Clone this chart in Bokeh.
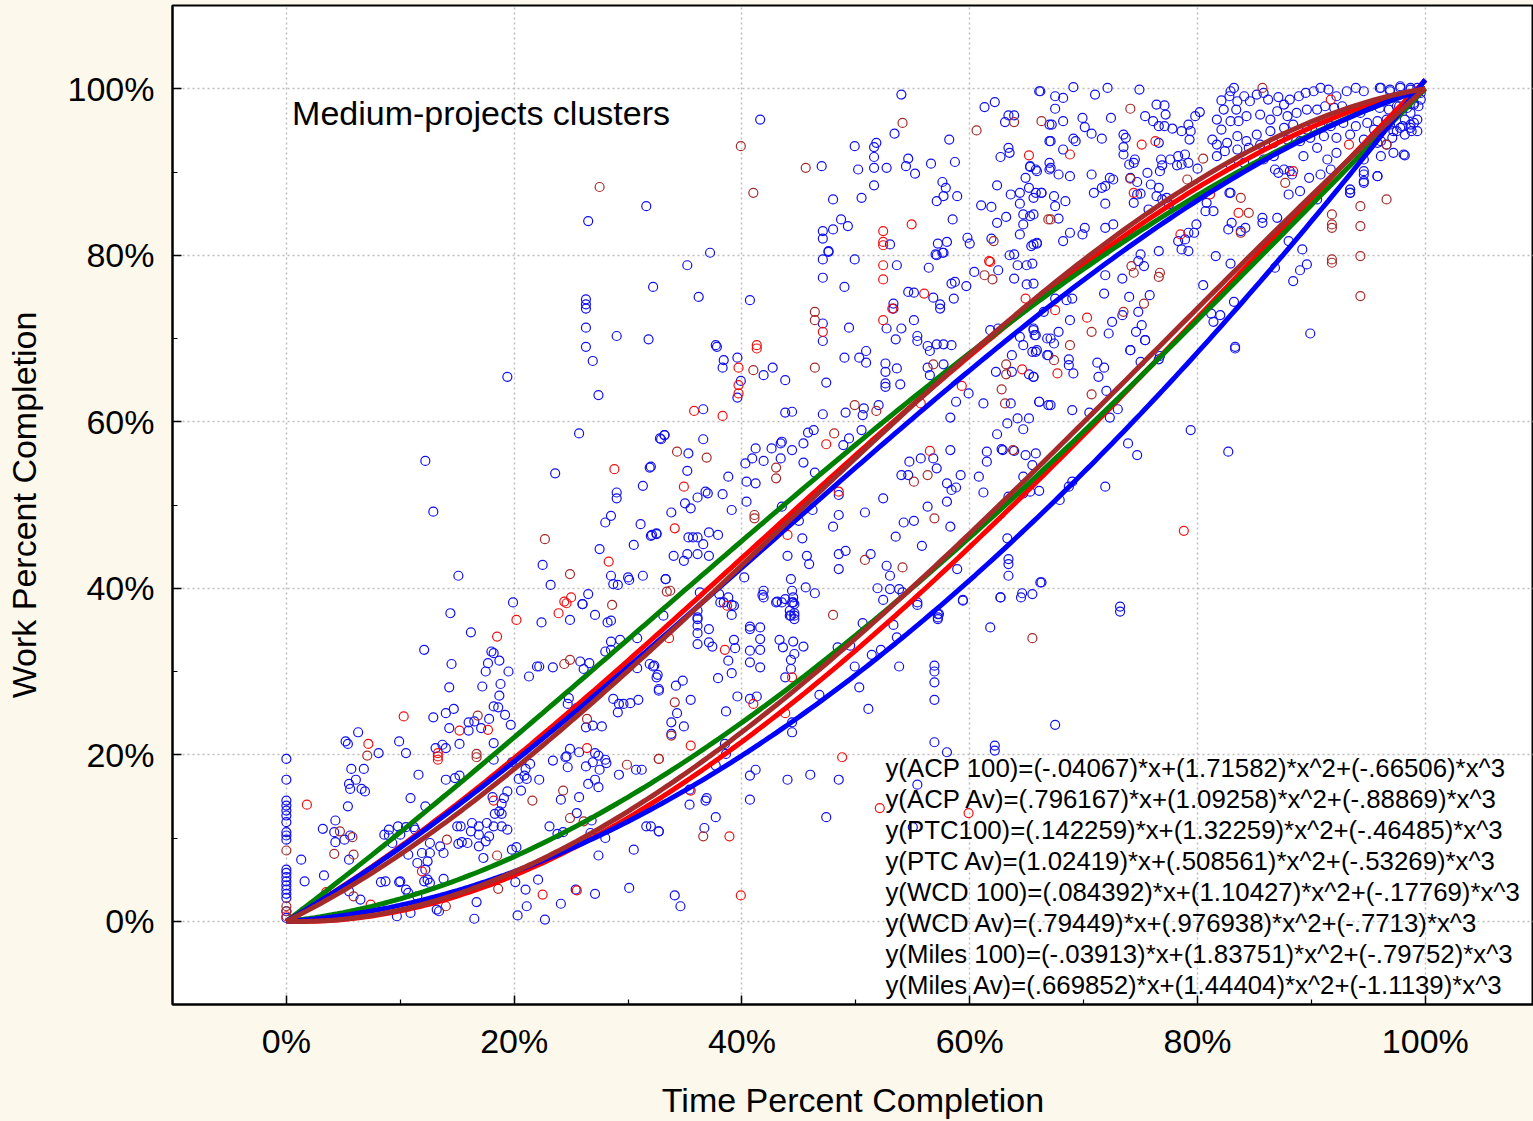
import numpy as np
from bokeh.plotting import figure
from bokeh.models import FixedTicker, Range1d, ColumnDataSource
from bokeh.embed import file_html
from bokeh.resources import INLINE
from bokeh.core.properties import value

# ---------------- data ----------------
x_ticks = [0, 20, 40, 60, 80, 100]
x_tick_labels = ["0%", "20%", "40%", "60%", "80%", "100%"]
x_minor_ticks = [10, 30, 50, 70, 90]
y_ticks = [0, 20, 40, 60, 80, 100]
y_tick_labels = ["0%", "20%", "40%", "60%", "80%", "100%"]
y_minor_ticks = [10, 30, 50, 70, 90]

fit_names = ["ACP 100", "ACP Av", "PTC100", "PTC Av", "WCD 100", "WCD Av", "Miles 100", "Miles Av"]
coef_x = [-.04067, .796167, .142259, 1.02419, .084392, .79449, -.03913, .669852]
coef_x2 = [1.71582, 1.09258, 1.32259, .508561, 1.10427, .976938, 1.83751, 1.44404]
coef_x3 = [-.66506, -.88869, -.46485, -.53269, -.17769, -.7713, -.79752, -1.1139]
fit_colors = ["#FF0000", "#FF0000", "#008000", "#008000", "#0000FF", "#0000FF", "#A52A2A", "#A52A2A"]
equation_texts = [
    "y(ACP 100)=(-.04067)*x+(1.71582)*x^2+(-.66506)*x^3",
    "y(ACP Av)=(.796167)*x+(1.09258)*x^2+(-.88869)*x^3",
    "y(PTC100)=(.142259)*x+(1.32259)*x^2+(-.46485)*x^3",
    "y(PTC Av)=(1.02419)*x+(.508561)*x^2+(-.53269)*x^3",
    "y(WCD 100)=(.084392)*x+(1.10427)*x^2+(-.17769)*x^3",
    "y(WCD Av)=(.79449)*x+(.976938)*x^2+(-.7713)*x^3",
    "y(Miles 100)=(-.03913)*x+(1.83751)*x^2+(-.79752)*x^3",
    "y(Miles Av)=(.669852)*x+(1.44404)*x^2+(-1.1139)*x^3",
]
chart_note = "Medium-projects clusters"
x_title = "Time Percent Completion"
y_title = "Work Percent Completion"

# scatter points, (time %, work %)
blue_pts = [
    (0,19.5),(0,17),(0,14.5),(0,13.9),(0,13.3),(0,12.7),(0,11.9),(0,10.7),(0,10.3),(0,9.8),(0,6.2),(0,5.8),(0,5.3),(0,4.8),(0,4.3),(0,3.8),(0,3.3),(0,2.8),(0,1.2),(0,0.4),
    (19.9,38.3),(14.4,37.0),(16.2,34.7),(12.1,32.6),(14.5,30.9),(14.3,28.1),(14.0,25.0),(14.7,25.5),(12.9,24.5),(14.3,23.2),(6.3,22.7),(5.2,21.6),(5.4,21.3),(9.9,21.6),(10.5,20.2),(8.1,20.2),(16.0,23.9),(16.5,24.0),(17.1,23.2),(16.0,22.9),(17.8,24.3),(18.0,32.4),(18.2,32.2),(17.7,31.0),(18.7,31.3),(17.5,30.0),(19.5,30.0),(17.2,28.2),(18.8,28.5),(18.7,27.1),(18.2,25.8),(18.6,25.7),(19.2,24.8),(19.7,23.6),(13.7,21.2),(14.0,20.8),(15.2,21.3),(13.1,20.8),(18.2,21.4),(18.2,19.4),(11.6,17.6),(5.7,18.3),(6.8,18.3),(6.1,17.0),(5.5,16.5),(5.6,15.9),(6.6,15.9),(6.9,15.6),(5.4,13.8),(10.9,14.8),(12.2,13.8),(14.0,17.0),(14.8,17.2),(15.2,17.5),(3.2,11.1),(4.3,12.1),(4.2,10.7),(4.3,9.5),(5.1,9.8),(5.6,10.3),(1.3,7.4),(1.6,4.8),(3.3,5.5),(5.5,7.4),(5.5,3.6),(6.5,2.6),(8.3,4.7),(8.7,4.8),(9.9,4.7),(10.0,4.8),(9.0,10.3),(8.6,10.4),(9.8,11.4),(10.5,11.3),(10.0,10.4),(11.2,11.3),(11.3,11.0),(9.0,11.0),(9.3,9.4),(10.7,8.0),(11.9,8.2),(12.6,9.4),(12.6,8.2),(12.4,7.2),(13.5,9.0),(13.8,8.2),(11.5,7.0),(12.2,6.2),(12.4,5.0),(12.1,4.8),(12.6,4.6),(13.8,5.1),(10.5,3.8),(10.7,3.4),(11.5,3.0),(13.2,1.4),(13.4,1.2),(9.7,0.6),(10.9,1.0),(15.1,9.3),(15.4,9.5),(15.9,9.4),(16.3,11.8),(16.9,11.4),(17.6,11.8),(16.2,10.8),(16.9,10.4),(17.5,9.6),(16.9,9.0),(17.8,10.2),(18.2,11.4),(18.9,11.4),(15.0,11.4),(15.3,11.4),(18.3,12.9),(18.7,13.2),(18.9,12.9),(18.1,14.9),(19.4,15.6),(19.1,14.8),(18.9,14.1),(20.6,15.7),(19.8,19.1),(21.0,18.3),(20.9,17.5),(21.1,17.1),(20.4,17.1),(22.2,17.0),(21.4,18.9),(23.4,19.3),(24.6,19.8),(24.9,20.7),(25.7,20.3),(24.7,18.5),(24.5,19.7),(26.3,18.6),(26.9,19.1),(27.1,20.2),(27.4,19.9),(28.0,19.4),(27.5,18.2),(28.1,19.0),(27.1,17.0),(26.5,16.5),(27.4,16.1),(29.2,17.6),(30.7,18.2),(31.2,18.2),(22.2,30.6),(23.4,30.5),(21.3,29.4),(22.0,30.6),(25.8,31.2),(26.6,31.0),(26.1,30.3),(28.0,32.4),(28.5,32.6),(28.5,33.6),(28.2,35.9),(28.5,36.1),(29.3,33.8),(27.1,36.8),(24.9,36.2),(26.0,38.1),(22.4,35.9),(30.8,34.0),(31.9,30.9),(32.2,30.6),(32.6,29.6),(32.7,27.9),(30.8,30.4),(28.7,26.7),(29.2,26.1),(29.6,26.1),(30.2,26.2),(30.9,26.6),(29.1,25.1),(24.7,26.1),(25.5,25.6),(24.8,26.8),(26.3,23.3),(26.9,23.5),(27.7,23.4),(31.6,11.4),(32.7,10.8),(30.5,8.6),(27.4,7.9),(28.0,10.0),(27.4,10.6),(26.7,10.6),(30.1,4.0),(27.1,3.3),(25.4,3.8),(24.1,2.1),(22.7,0.2),(21.1,1.8),(20.3,0.7),(20.1,4.7),(21.0,3.8),(22.1,5.0),(16.7,2.3),(16.5,0.3),(17.3,7.6),(19.4,11.0),(20.2,8.9),(19.8,8.6),(23.1,11.4),(23.8,10.5),(24.3,10.7),(24.1,14.6),(25.7,14.9),(25.5,13.0),(26.8,12.1),
    (32.2,76.2),(26.3,74.7),(26.3,74.1),(26.3,73.6),(26.3,71.3),(29.0,70.3),(31.8,69.9),(26.3,69.0),(26.9,67.3),(19.4,65.4),(27.4,63.2),(25.7,58.6),(32.8,58.0),(33.2,58.4),(12.2,55.3),(23.6,53.8),(31.9,54.5),(29.0,51.5),(29.0,50.8),(31.3,52.3),(12.9,49.2),(28.0,47.9),(28.5,48.7),(31.1,47.7),(32.0,46.3),(32.5,46.6),(27.5,44.7),(30.5,45.2),(22.5,42.8),(23.2,40.4),(15.1,41.5),(28.5,41.5),(28.7,40.5),(29.1,40.4),(30.1,41.0),(30.0,41.3),(31.3,41.5),(33.3,41.1),(26.5,39.3),(26.0,38.1),
    (26.5,84.1),(31.6,85.9),
    (54.0,99.3),(41.6,96.3),(66.2,99.7),(61.3,97.8),(62.2,98.4),(63.1,96.0),(63.4,96.8),(63.9,96.8),(53.4,94.6),(49.9,93.1),(51.6,93.0),(51.8,93.5),(51.6,91.8),(51.6,90.5),(52.7,90.5),(50.2,90.3),(47.0,90.7),(58.2,93.9),(54.6,91.6),(54.4,90.7),(55.2,89.8),(56.6,91.0),(58.7,91.2),(51.6,88.4),(57.6,88.8),(57.9,88.1),(50.5,86.9),(48.0,86.7),(57.7,87.1),(57.1,86.5),(58.9,87.1),(58.5,84.3),(48.7,84.3),(49.3,83.5),(48.0,83.1),(47.1,82.9),(47.1,82.0),(47.6,80.5),(53.0,81.3),(57.2,81.4),(58.0,81.6),(57.6,80.3),(57.0,80.1),(59.8,82.1),(60.0,81.4),(62.7,91.8),(63.4,92.9),(63.5,92.3),(62.4,88.4),(64.9,89.3),(65.3,90.6),(65.9,90.1),(63.6,87.3),(64.4,87.5),(65.2,88.1),(64.4,86.2),(65.6,86.9),(66.3,87.5),(61.0,86.0),(61.9,85.8),(63.2,84.6),(62.4,83.9),(64.7,84.9),(65.6,84.9),(64.7,83.7),(64.4,82.5),(61.9,82.0),(65.4,81.1),(65.9,81.4),(63.9,80.1),(67.0,95.7),(67.0,93.7),(67.0,91.1),(67.0,90.3),
    (37.2,80.3),(35.2,78.8),(36.2,75.0),(40.7,74.6),(47.1,79.5),(47.6,80.4),(49.9,79.5),(47.1,77.3),(49.0,76.2),(53.6,78.8),(56.4,78.5),(57.1,80.0),(57.7,80.3),(60.4,78.0),(62.5,78.2),(63.5,80.0),(63.9,77.2),(64.2,78.8),(65.0,78.8),(65.0,76.5),(47.1,71.8),(47.1,69.7),(49.4,71.3),(37.7,69.2),(37.8,69.0),(38.4,67.4),(38.3,66.5),(39.6,67.7),(39.9,64.9),(39.6,62.9),(41.9,65.6),(42.7,66.5),(43.8,65.0),(36.6,61.5),(43.8,61.1),(44.4,61.2),(47.1,60.9),(47.4,64.7),(49.0,67.7),(50.3,67.7),(50.9,68.5),(50.9,67.1),(52.6,67.0),(52.6,66.0),(53.6,66.4),(52.6,64.6),(52.6,64.2),(53.9,64.5),(52.7,71.2),(54.0,71.2),(55.1,72.2),(53.5,69.9),(55.4,70.3),(55.4,69.7),(53.3,74.2),(53.3,73.6),(55.1,75.5),(54.6,75.6),(56.8,74.9),(57.4,74.1),(57.4,73.6),(56.3,69.1),(57.1,69.3),(57.7,69.3),(58.4,69.2),(56.5,68.5),(56.3,66.5),(56.5,65.6),(57.7,66.9),(58.8,62.4),(58.3,60.5),(61.2,62.2),(59.9,63.4),(58.6,74.8),(58.4,76.6),(58.7,76.8),(59.7,76.3),(61.8,71.0),(62.5,71.2),(64.4,70.2),(65.6,71.0),(65.7,70.4),(65.5,68.4),(65.9,68.6),(66.8,68.0),(66.8,70.0),(64.7,69.2),(63.7,68.0),(62.3,66.0),(63.7,66.0),(65.2,65.7),(65.6,65.4),(66.1,62.4),(66.9,62.0),(63.6,62.2),(63.3,59.8),(64.2,60.4),(65.2,60.4),(64.7,59.1),(62.4,58.5),(62.8,56.7),(63.9,56.5),(64.9,56.0),(65.8,56.2),(65.5,54.8),(64.7,53.4),(63.4,51.0),(64.7,51.4),(65.3,51.6),(65.5,39.3),(62.7,38.9),(64.6,39.4),
    (32.9,57.9),(33.2,58.4),(36.6,57.9),(32.0,54.6),(35.3,56.2),(35.2,54.1),(35.0,50.2),(35.5,49.6),(33.8,49.1),(36.8,51.6),(37.0,51.4),(36.1,50.9),(38.3,51.3),(38.8,53.4),(39.1,49.4),(32.1,46.4),(32.5,46.5),(34.0,43.9),(34.9,43.3),(35.3,46.1),(35.7,46.1),(36.1,46.1),(36.6,45.3),(35.2,44.1),(36.1,44.1),(37.1,43.9),(37.1,46.7),(37.9,46.4),(33.3,41.1),(33.1,36.7),(36.3,39.5),(36.1,36.3),(38.0,39.3),(38.8,38.9),(39.3,37.9),(38.4,38.3),(40.2,41.3),(41.9,39.7),(41.8,39.2),(43.1,38.4),(43.8,38.7),(44.3,41.1),(44.4,39.7),(44.5,38.9),(44.5,38.3),(44.6,37.0),(44.3,36.7),(45.6,40.1),(46.4,39.4),(40.7,35.4),(41.2,56.8),(40.9,55.6),(40.3,55.0),(41.9,55.3),(40.4,52.8),(41.2,52.6),(40.4,50.4),(42.6,56.8),(43.4,57.4),(43.5,57.6),(44.4,56.6),(45.4,57.4),(45.8,58.7),(46.3,59.0),(45.4,55.1),(43.4,55.6),(46.4,53.9),(43.5,49.8),(46.2,49.4),(45.0,48.1),(45.3,46.0),(44.0,43.9),(45.7,43.9),(45.9,42.9),(48.5,48.8),(48.0,47.4),(48.9,57.2),(49.4,58.0),(50.5,59.0),(50.7,61.6),(50.6,60.8),(52.0,62.0),(49.1,61.1),(48.5,51.2),(48.5,44.1),(49.1,44.5),(48.5,42.3),(50.8,49.1),(51.3,44.1),(52.4,50.8),(52.7,42.7),(53.0,41.5),(51.9,40.0),(52.4,38.6),(53.0,39.9),(53.8,39.9),(54.1,39.5),(55.4,38.0),(57.3,36.9),(57.2,36.5),(53.5,46.2),(54.2,47.9),(55.1,48.1),(55.8,45.1),(56.3,49.8),(56.8,55.6),(57.1,54.4),(58.3,56.6),(55.7,55.6),(54.7,55.2),(54.6,53.6),(54.0,53.6),(58.0,52.6),(58.4,51.8),(58.8,52.1),(59.2,53.6),(58.0,50.4),(58.3,47.4),(60.8,53.4),(61.2,51.5),(61.5,56.4),(61.5,55.2),(62.9,56.6),(63.3,46.0),(63.4,43.5),(63.4,42.9),(63.4,41.5),(66.2,40.7),(59.4,38.6),(58.9,42.3),
    (41.9,38.9),(43.0,38.3),(43.5,38.3),(44.4,38.3),(44.6,38.1),(44.2,37.3),(44.6,36.7),(44.6,36.3),(44.2,36.7),(38.1,38.3),(39.1,38.0),(39.1,36.8),(36.1,37.3),(36.1,36.5),(36.1,35.5),(36.1,34.6),(36.1,33.3),(37.1,35.1),(40.7,35.1),(41.6,35.3),(41.6,33.9),(41.6,32.6),(40.7,32.5),(40.7,31.1),(41.6,30.5),(43.3,33.8),(43.6,32.9),(44.5,33.6),(45.4,33.0),(44.6,32.1),(44.3,31.4),(44.3,30.3),(43.8,29.3),(37.1,33.5),(37.4,33.0),(39.3,33.8),(39.4,32.8),(38.8,31.3),(39.1,29.8),(37.9,29.2),(32.3,30.7),(32.5,29.3),(32.7,27.7),(34.2,28.3),(34.8,28.9),(35.5,26.6),(34.3,25.0),(33.8,23.9),(33.8,22.5),(34.9,23.4),(39.6,27.0),(40.7,26.7),(41.3,27.0),(38.6,25.2),(32.0,11.4),(32.7,10.8),(34.1,3.1),(34.6,1.8),(35.4,15.8),(35.4,14.0),(36.8,14.5),(36.9,14.8),(37.7,12.5),(36.7,11.2),(38.5,21.3),(38.6,20.1),(37.7,18.7),(40.7,17.5),(41.2,18.2),(40.7,14.6),(44.0,17.0),(46.0,17.6),(48.5,17.0),(47.4,12.5),(55.4,16.4),(46.8,27.2),(44.4,23.9),(44.4,22.7),(49.9,30.6),(50.3,28.1),(51.1,25.5),(51.4,32.0),(52.2,32.6),(53.6,34.1),(53.3,35.6),(53.8,30.6),(50.6,35.8),(49.5,33.1),(48.4,32.9),(55.4,38.3),(57.2,36.9),(57.2,36.3),(59.4,38.5),(61.8,35.3),(62.7,38.9),(64.5,38.9),(56.9,30.7),(56.9,30.0),(56.9,28.7),(56.9,26.6),(56.9,21.5),(58.0,20.3),(62.2,21.1),(62.2,20.5),(55.0,11.3),
    (66.1,99.7),(67.5,99.1),(68.2,98.9),(69.1,100.2),(71.0,99.3),(72.1,100.1),(74.9,99.9),(67.5,97.6),(67.2,95.7),(68.2,96.1),(69.9,96.5),(70.1,95.4),(70.7,94.6),(71.6,94.0),(69.1,94.0),(69.3,93.7),(68.2,92.7),(67.1,93.7),(72.4,96.5),(75.4,96.7),(76.1,96.1),(76.4,98.1),(77.1,98.0),(77.2,96.9),(77.1,95.5),(76.6,95.5),(77.8,95.2),(78.6,94.9),(79.2,95.7),(79.8,96.7),(80.2,97.2),(79.3,93.9),(79.4,94.9),(73.5,94.5),(73.7,94.1),(73.5,93.0),(73.5,92.1),(74.5,91.5),(74.4,91.1),(74.0,90.9),(76.6,93.5),(76.8,91.5),(76.9,90.8),(77.6,91.5),(78.3,91.9),(78.9,92.1),(79.2,91.1),(78.2,90.8),(80.0,90.4),(76.7,90.1),(78.6,90.9),(65.3,90.7),(65.8,90.3),(67.1,90.5),(67.8,89.7),(68.8,89.5),(70.7,89.7),(71.6,88.1),(71.9,88.3),(72.6,89.1),(72.3,89.3),(74.1,89.3),(75.6,89.9),(75.9,88.5),(76.6,88.1),(77.3,86.9),(76.9,86.7),(76.4,87.1),(77.5,86.1),(75.7,85.5),(74.7,88.8),(74.7,87.3),(74.4,86.3),(75.0,87.4),(65.8,87.5),(66.3,87.5),(67.4,87.1),(67.5,85.9),(68.4,86.5),(70.9,87.5),(71.9,86.2),(65.3,84.7),(67.8,84.4),(65.6,81.3),(65.9,81.5),(68.2,81.7),(68.8,82.7),(69.9,82.5),(70.1,83.3),(71.9,83.3),(72.6,83.7),(76.6,80.5),(75.0,80.1),(75.3,78.7),(74.8,79.3),(73.4,77.2),(74.0,75.0),(75.8,75.2),(71.9,77.6),(71.8,75.4),(69.0,74.8),(68.5,74.6),(67.5,74.8),(65.5,79.0),(65.6,76.6),(66.5,73.2),(68.8,72.2),(67.1,70.0),(67.8,70.8),(65.6,71.2),(65.8,70.4),(72.2,70.6),(72.5,72.0),(73.4,72.8),(74.6,70.8),(75.1,71.6),(74.8,73.2),(74.1,68.6),(75.4,69.8),(78.3,81.7),(78.9,81.9),(79.2,80.5),(78.6,80.7),(79.9,83.7),(80.7,85.3),(80.8,86.3),(81.6,79.9),(81.4,85.3),(79.2,82.7),(79.7,82.7),(80.5,76.4),(82.9,79.0),(82.8,87.5),(82.7,83.1),(83.0,83.9),(83.8,82.9),(84.2,83.3),(85.7,84.5),(85.7,83.9),(87.0,84.5),(88.0,81.7),(89.2,80.7),(86.8,78.5),(88.4,76.9),(89.0,78.2),(89.6,78.9),(89.9,70.6),(83.2,74.4),(81.2,73.0),(81.4,72.0),(82.0,72.8),(83.3,69.0),
    (82.1,98.6),(82.9,99.7),(83.2,100.1),(82.8,99.1),(83.5,98.5),(82.3,97.5),(83.4,97.5),(84.1,99.1),(84.6,98.5),(85.2,99.3),(85.8,99.5),(86.2,98.7),(87.1,99.0),(87.6,98.1),(88.1,98.7),(88.9,99.1),(89.5,99.5),(90.2,99.7),(90.8,100.1),(91.5,99.9),(92.2,99.1),(93.1,99.7),(93.9,100.1),(94.6,99.7),(96.0,100.1),(96.9,99.9),(97.8,100.1),(98.7,99.9),(99.3,100.1),(99.6,99.5),(81.7,96.3),(82.1,95.1),(82.9,96.1),(83.6,96.1),(84.3,96.7),(85.5,96.9),(86.4,96.3),(87.0,97.3),(87.9,96.7),(88.7,97.1),(89.6,97.5),(90.5,97.5),(91.2,97.9),(92.0,97.7),(92.7,97.9),(93.4,97.3),(94.3,97.1),(95.2,97.9),(96.0,97.7),(96.8,97.5),(97.5,97.9),(98.4,97.7),(99.0,98.1),(99.4,97.9),(81.3,93.9),(81.7,93.3),(82.6,93.5),(83.5,94.3),(84.3,93.7),(85.2,94.5),(86.4,94.9),(87.6,95.3),(88.4,95.7),(89.6,95.1),(90.8,95.5),(91.7,95.5),(92.8,95.9),(93.9,95.5),(94.9,95.9),(95.8,96.1),(96.9,95.7),(97.8,95.3),(98.7,95.7),(99.3,96.3),(98.8,94.9),(98.2,94.5),(81.7,91.9),(82.4,92.5),(83.5,92.7),(84.5,92.9),(85.5,93.3),(86.7,93.5),(87.9,93.9),(89.0,93.7),(89.9,94.1),(91.1,94.3),(92.2,94.1),(93.4,94.5),(94.6,93.9),(95.8,93.5),(96.6,93.3),(97.5,94.9),(82.9,90.9),(84.1,91.1),(85.8,91.5),(86.7,91.9),(87.6,90.3),(88.1,90.1),(89.3,91.9),(90.5,92.9),(91.4,91.5),(92.2,92.3),(94.6,91.5),(95.8,89.5),(98.1,92.1),(94.6,90.1),(93.4,87.9),(97.2,92.3),(87.1,89.9),(86.8,90.3),(88.3,89.7),(89.8,89.3),(90.8,89.7),(91.7,90.3),(94.6,88.7),(93.4,87.5),(82.9,87.5),(90.5,86.7),(88.0,87.3),(89.0,87.7),
    (83.3,68.8),(79.4,59.0),(82.7,56.4),(73.9,57.4),(74.7,56.0),(71.9,52.2),(68.7,52.2),(69.0,52.8),(67.9,50.6),(66.1,51.7),(66.3,40.7),(73.2,37.8),(73.2,37.2),(67.5,23.6),(74.1,68.6),(71.2,67.1),(71.8,66.5),(71.3,65.4),(72.0,63.7),(73.0,61.5),(72.3,60.5),(70.5,61.1),(69.0,61.4),(67.1,62.0),(66.1,62.4),(65.6,65.4),(66.9,68.0),(68.7,67.5),(68.7,66.8),(69.1,65.8),(65.8,68.4),(67.4,69.4),(75.4,69.8),(75.0,67.2),(76.6,67.5),(76.7,67.9),
    (96.1,100.1),(96.9,99.7),(97.8,100.3),(98.7,100.1),(99.3,99.7),(99.0,98.3),(98.7,97.1),(98.2,96.3),(99.0,95.9),(99.3,94.9),(98.7,95.3),(99.6,98.7),(98.0,95.5),(97.2,94.9),(97.1,94.1),(96.1,93.7),(96.1,91.9),(94.3,91.9),(94.9,93.3),(95.5,95.1),(96.6,96.3),(97.7,97.9),(96.3,98.5),(98.2,92.0),(95.8,89.5),(94.6,89.7),(94.6,88.9),(93.4,87.9),(93.4,87.5),
]

red_pts = [
    (0,0.6),(1.8,14.0),(10.3,24.6),(7.2,21.3),(13.3,19.4),(13.3,19.8),(13.3,20.2),(15.2,22.9),(17.7,23.0),(18.5,34.2),(20.2,36.2),(23.9,37.0),(24.6,38.2),(25.0,38.9),(26.4,20.8),(18.2,14.5),(3.5,3.5),(7.4,2.0),(11.9,6.0),(22.5,3.2),(25.5,3.7),(28.8,54.3),(28.3,43.2),(24.4,38.4),
    (52.4,82.9),(52.4,81.6),(52.4,81.2),(54.9,83.7),(65.2,92.0),(61.7,79.3),
    (52.4,78.8),(52.4,77.1),(53.2,73.6),(52.4,72.2),(56.0,75.4),(61.8,79.2),(64.9,74.8),(64.6,66.3),(59.3,64.3),(55.7,62.2),(47.1,70.8),(41.3,69.2),(41.3,68.8),(39.7,66.5),(39.7,64.4),(39.7,63.4),(35.8,61.3),(38.3,60.7),(47.4,57.3),(34.9,52.2),(34.1,47.2),(48.5,51.6),(56.5,56.5),(44.0,46.4),(38.7,37.9),
    (33.6,34.0),(38.5,32.6),(44.4,29.3),(43.8,25.0),(35.5,21.1),(48.8,19.7),(38.9,10.2),(39.9,3.1),(52.1,13.6),(59.9,13.0),(35.5,15.7),(41.0,26.1),
    (68.8,92.1),(75.1,93.3),(76.3,93.7),(70.3,72.5),(67.5,73.4),(83.6,85.1),(81.1,87.3),(74.4,87.5),(78.5,82.5),(88.4,90.1),(93.3,93.3),(91.7,98.7),
    (78.8,46.9),(67.7,65.8),
]

brown_pts = [
    (0,8.5),(0,1.8),(0,1.2),(4.2,8.1),(7.1,19.9),(16.8,24.7),(16.7,19.7),(16.7,20.1),(24.4,30.9),(24.9,31.4),(26.4,24.3),(29.9,18.8),(32.7,19.5),(24.3,15.7),(21.6,14.5),(24.9,12.4),(26.1,12.0),(14.1,9.8),(5.9,8.0),(5.9,3.0),(18.5,7.9),(18.6,3.9),(14.0,1.8),(4.7,10.8),(5.8,10.1),
    (22.7,45.9),(24.9,41.7),(28.6,38.0),(33.4,39.6),(27.5,88.2),
    (39.9,93.1),(45.6,90.5),(41.0,87.5),(54.1,95.9),(60.6,95.0),(63.9,96.0),(66.3,96.1),(62.1,81.7),(66.9,84.3),
    (46.4,73.2),(46.4,72.2),(46.4,66.5),(41.0,66.2),(49.9,62.0),(51.8,61.3),(48.1,58.6),(34.3,56.4),(36.9,55.7),(43.0,54.5),(43.0,53.2),(41.1,48.8),(41.1,48.4),(61.3,77.6),(62.0,77.1),(56.8,66.9),(63.2,66.9),(63.2,65.7),(62.8,63.9),(63.1,62.2),(63.8,56.6),(56.3,53.6),(55.1,52.8),(56.9,48.4),(54.1,42.5),(50.8,43.4),(48.0,36.8),(33.7,39.7),
    (34.1,26.3),(33.8,22.3),(32.7,19.5),(36.6,10.2),(65.5,34.0),
    (74.1,97.6),(85.7,100.1),(79.1,89.1),(80.5,91.6),(74.1,89.2),(74.2,78.7),(74.4,77.9),(76.6,77.4),(76.7,77.9),(75.3,74.2),(73.5,73.2),(70.7,70.8),(68.8,69.2),(67.1,84.3),(83.8,86.9),(84.5,85.1),(83.8,82.7),(87.7,88.7),(91.8,84.9),(91.8,83.7),(91.8,83.3),(94.3,85.9),(94.3,83.5),(96.6,86.7),(94.3,79.9),(91.8,79.5),(91.8,79.1),(94.3,75.1),(96.6,93.3),
    (67.4,67.4),(70.7,63.3),
]

# ---------------- styling ----------------
CREAM = "#FDF8EC"
FONT = "Liberation Sans"

p = figure(width=1533, height=1121,
           x_range=Range1d(-10, 109.5), y_range=Range1d(-10, 110),
           output_backend="svg", toolbar_location=None,
           min_border_left=172, min_border_right=0, min_border_top=5, min_border_bottom=113,
           background_fill_color="white", border_fill_color=CREAM,
           outline_line_color="black", outline_line_width=2)

p.xaxis.ticker = FixedTicker(ticks=x_ticks, minor_ticks=x_minor_ticks)
p.yaxis.ticker = FixedTicker(ticks=y_ticks, minor_ticks=y_minor_ticks)
p.xaxis.major_label_overrides = {t: s for t, s in zip(x_ticks, x_tick_labels)}
p.yaxis.major_label_overrides = {t: s for t, s in zip(y_ticks, y_tick_labels)}

for ax in (p.xaxis, p.yaxis):
    ax.axis_line_color = "black"
    ax.axis_line_width = 2
    ax.major_tick_in = 9
    ax.major_tick_out = 0
    ax.minor_tick_in = 5
    ax.minor_tick_out = 0
    ax.major_tick_line_color = "black"
    ax.minor_tick_line_color = "black"
    ax.major_tick_line_width = 1.5
    ax.minor_tick_line_width = 1.2
    ax.major_label_text_font = FONT
    ax.major_label_text_font_size = "34px"
    ax.major_label_text_color = "black"
    ax.axis_label_text_font = FONT
    ax.axis_label_text_font_size = "34px"
    ax.axis_label_text_font_style = "normal"
    ax.axis_label_text_color = "black"

p.xaxis.axis_label = x_title
p.yaxis.axis_label = y_title
p.xaxis.major_label_standoff = 17
p.yaxis.major_label_standoff = 18
p.xaxis.axis_label_standoff = 18
p.yaxis.axis_label_standoff = 22

for g in (p.xgrid, p.ygrid):
    g.grid_line_color = "#BDBDBD"
    g.grid_line_dash = "2 3"
    g.grid_line_width = 1.5

# scatter
def unzip(pts):
    return [a for a, b in pts], [b for a, b in pts]

bx, by = unzip(blue_pts)
p.scatter(bx, by, marker="circle", size=9, fill_color=None, line_color="#1010F0", line_width=1.2)
kx, ky = unzip(brown_pts)
p.scatter(kx, ky, marker="circle", size=9, fill_color=None, line_color="#A52A2A", line_width=1.2)
rx, ry = unzip(red_pts)
p.scatter(rx, ry, marker="circle", size=9, fill_color=None, line_color="#F01010", line_width=1.2)

# fitted cubic curves from the printed coefficients
t = np.linspace(0, 1, 201)
for name, a, b, c, col in zip(fit_names, coef_x, coef_x2, coef_x3, fit_colors):
    yy = a * t + b * t ** 2 + c * t ** 3
    p.line(t * 100, yy * 100, line_color=col, line_width=5)

# equation texts
eq_src = ColumnDataSource(dict(
    x=[52.6] * len(equation_texts),
    y=[18.4 - i * 3.73 for i in range(len(equation_texts))],
    text=equation_texts))
p.text(x="x", y="y", text="text", source=eq_src, text_font=value(FONT),
       text_font_size="25.8px", text_color="black", text_baseline="middle", text_align="left")

p.text(x=[0.5], y=[97.1], text=[chart_note], text_font=value(FONT),
       text_font_size="34px", text_color="black", text_baseline="middle", text_align="left")

html = file_html(p, INLINE, title="Medium-projects clusters")
html = html.replace("<head>", "<head><style>body{background-color:%s;}</style>" % CREAM, 1)
open("out.html", "w").write(html)
